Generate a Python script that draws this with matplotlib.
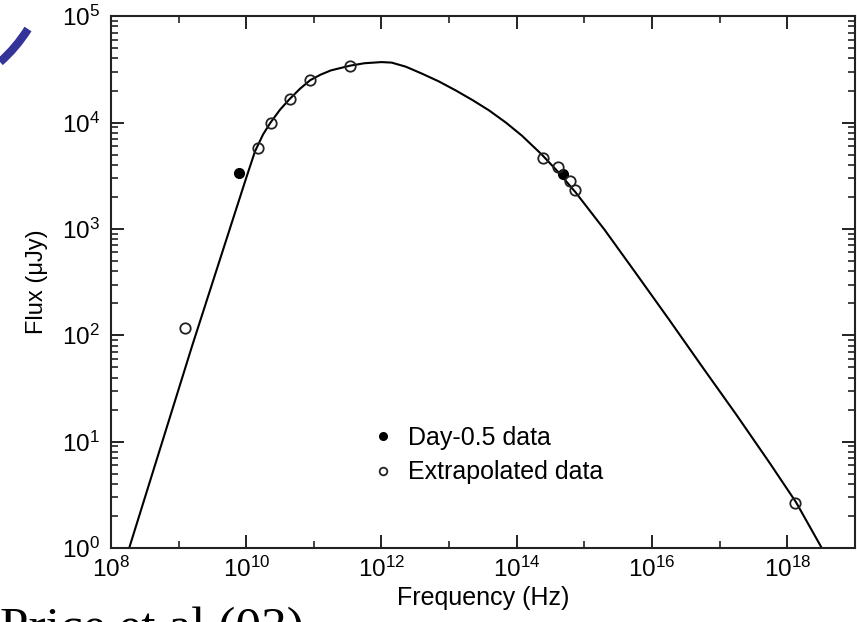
import matplotlib
matplotlib.use("Agg")
import matplotlib.pyplot as plt
from matplotlib.lines import Line2D
from matplotlib.patches import PathPatch
from matplotlib.path import Path
from matplotlib.ticker import LogLocator, NullFormatter
import numpy as np

plt.rcParams['font.family'] = ['Liberation Sans', 'DejaVu Sans']

# model curve
curve_nu = [1.86e8, 1.58e9, 1.0e10, 1.35e10, 1.78e10, 2.29e10, 3.16e10,
            4.37e10, 6.3e10, 8.9e10, 1.26e11, 1.78e11, 3.47e11, 5.6e11,
            1.0e12, 1.41e12, 2.29e12, 3.98e12, 7.1e12, 1.26e13, 2.24e13,
            3.9e13, 6.9e13, 1.2e14, 2.34e14, 4.17e14, 7.4e14, 2.0e15,
            5.75e15, 1.78e16, 5.6e16, 1.78e17, 5.5e17, 1.35e18, 3.24e18]
curve_flux = [1.0, 79, 3020, 5370, 7760, 1.0e4, 1.32e4,
              1.66e4, 2.09e4, 2.51e4, 2.82e4, 3.09e4, 3.43e4, 3.61e4,
              3.70e4, 3.66e4, 3.35e4, 2.88e4, 2.43e4, 2.0e4, 1.62e4,
              1.30e4, 1.0e4, 7500, 5010, 3390, 2210, 977,
              385, 141, 50, 17.8, 6.3, 2.69, 1.0]

# day-0.5 data (filled)
day_nu = [7.94e9, 4.9e14]
day_flux = [3390, 3270]

# extrapolated data (open)
ext_nu = [1.23e9, 1.48e10, 2.29e10, 4.37e10, 8.9e10, 3.47e11,
          2.45e14, 4.07e14, 6.17e14, 7.24e14, 1.32e18]
ext_flux = [117, 5750, 1.0e4, 1.66e4, 2.51e4, 3.39e4,
            4620, 3800, 2820, 2340, 2.63]

W, H = 857, 622
fig = plt.figure(figsize=(W / 100, H / 100), dpi=100)
ax = fig.add_axes([0.1295, 0.119, 0.868, 0.855])

ax.plot(curve_nu, curve_flux, color='black', lw=1.5, zorder=2)
ax.plot(day_nu, day_flux, 'o', color='black', ms=7, zorder=3)
ax.plot(ext_nu, ext_flux, 'o', mfc='none', mec='#222222', mew=1.3, ms=7.5, zorder=3)

ax.set_xscale('log')
ax.set_yscale('log')
ax.set_xlim(1e8, 1e19)
ax.set_ylim(1e0, 1e5)

ax.xaxis.set_major_locator(LogLocator(base=100, numticks=10))
ax.xaxis.set_minor_locator(LogLocator(base=10, subs=(1.0,), numticks=20))
ax.xaxis.set_minor_formatter(NullFormatter())
ax.yaxis.set_major_locator(LogLocator(base=10, numticks=10))
ax.yaxis.set_minor_locator(LogLocator(base=10, subs=np.arange(2, 10), numticks=20))
ax.yaxis.set_minor_formatter(NullFormatter())

ax.tick_params(which='both', direction='in', top=True, right=True, color='#222222')
ax.tick_params(which='major', length=9.5, width=1.4, labelsize=17.5)
ax.tick_params(which='minor', length=5, width=1.2)
ax.tick_params(axis='x', which='major', pad=6)
ax.tick_params(axis='y', which='major', pad=8)
for sp in ax.spines.values():
    sp.set_linewidth(1.5)
    sp.set_color('#222222')

ax.set_xlabel('Frequency (Hz)', fontsize=18, labelpad=3)
ax.set_ylabel('Flux (\u03bcJy)', fontsize=17, labelpad=10)

handles = [Line2D([], [], marker='o', ls='none', color='black', ms=5.5),
           Line2D([], [], marker='o', ls='none', mfc='none', mec='#222222', mew=1.3, ms=5.5)]
ax.legend(handles, ['Day-0.5 data', 'Extrapolated data'], loc='upper left',
          bbox_to_anchor=(371 / W, 1 - 426 / H), bbox_transform=fig.transFigure,
          frameon=False, fontsize=18, handlelength=0.95, handletextpad=0.55,
          borderpad=0, borderaxespad=0, labelspacing=0.42)

# slide decoration (blue arc, top left)
arc = Path([(0 / W, 1 - 62 / H), (16 / W, 1 - 48 / H), (28 / W, 1 - 29 / H)],
           [Path.MOVETO, Path.CURVE3, Path.CURVE3])
fig.add_artist(PathPatch(arc, transform=fig.transFigure, fill=False,
                         edgecolor='#333399', lw=6, capstyle='butt'))

# citation, cut by the bottom edge as in the slide
fig.text(0.0, -0.032, 'Price et al (03)', family=['Liberation Serif', 'DejaVu Serif'],
         fontsize=37, ha='left', va='baseline')

fig.savefig('out.png', dpi=100)
